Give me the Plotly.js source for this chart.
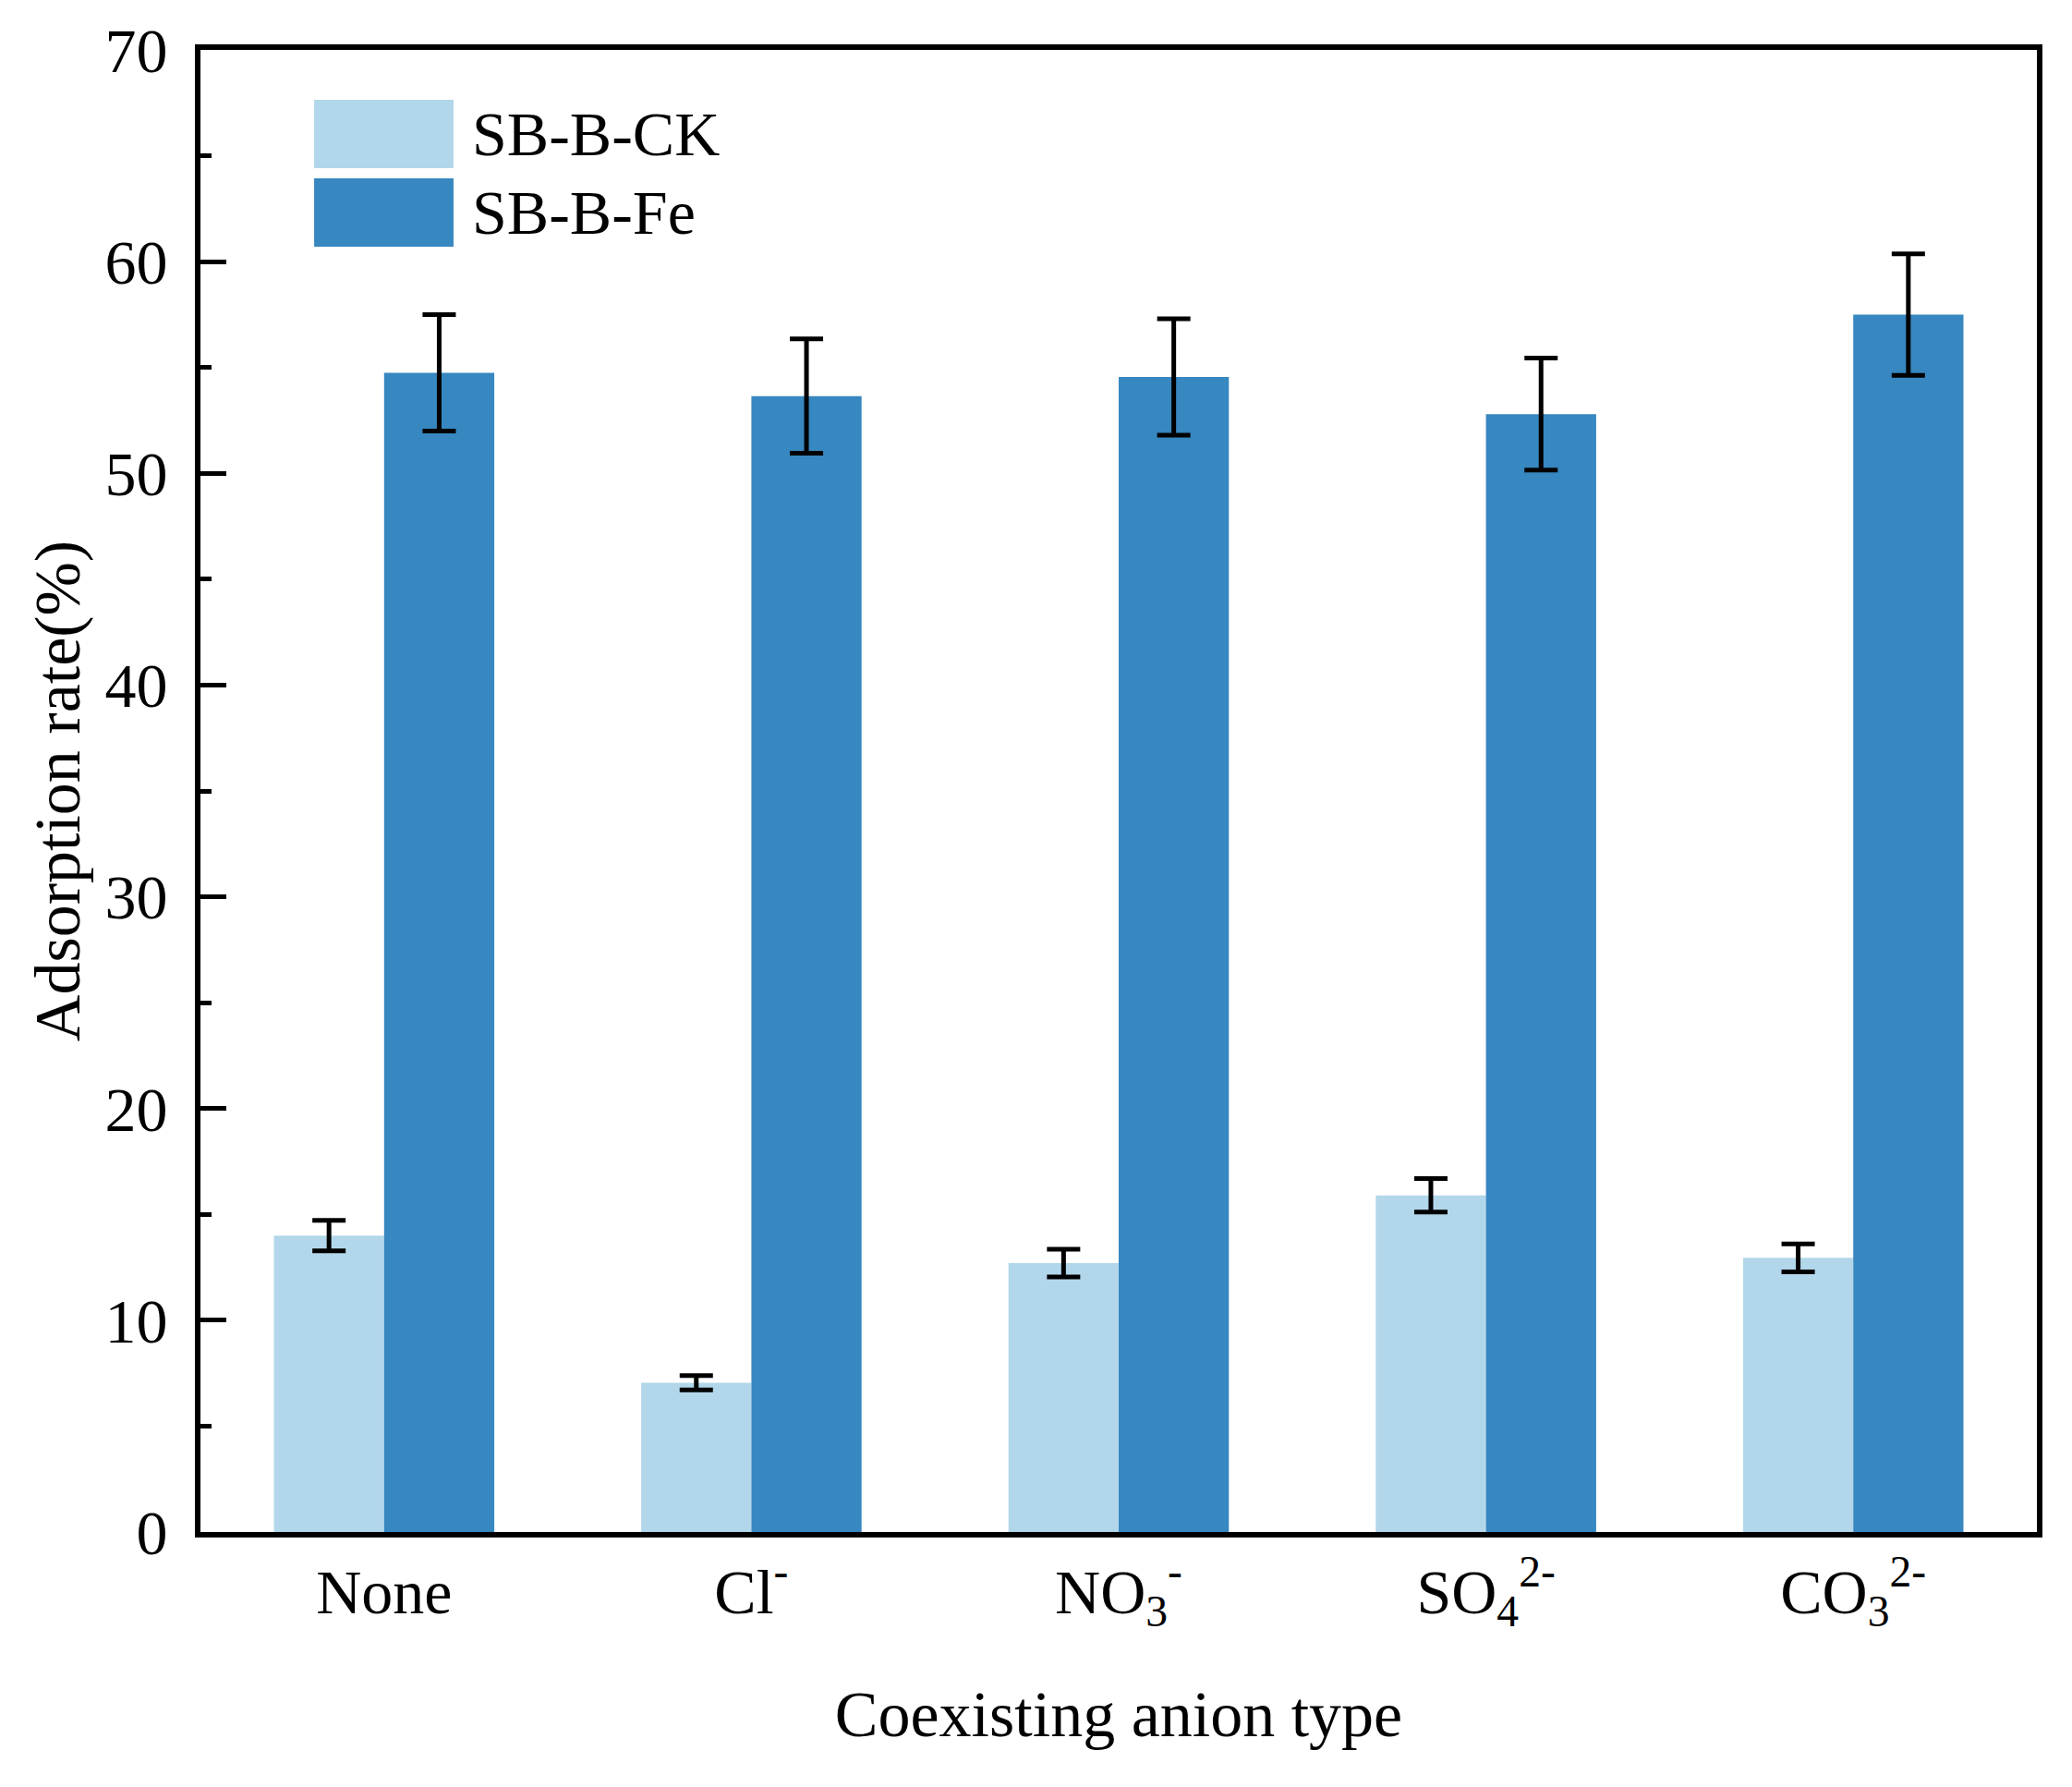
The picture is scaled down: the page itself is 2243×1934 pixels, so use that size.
<!DOCTYPE html>
<html>
<head>
<meta charset="utf-8">
<script src="https://cdn.plot.ly/plotly-3.0.1.min.js"></script>
<style>
  html, body { margin: 0; padding: 0; background: #ffffff; }
  #chart { width: 2243px; height: 1934px; }
</style>
</head>
<body>
<div id="chart"></div>
<script>
// ---- data ----
const categories = ["None", "Cl<sup>-</sup>", "NO<sub>3</sub><sup>-</sup>", "SO<sub>4</sub><sup>2-</sup>", "CO<sub>3</sub><sup>2-</sup>"];
const seriesNames = ["SB-B-CK", "SB-B-Fe"];
const ckValues = [14.0, 7.05, 12.7, 15.9, 12.95];
const ckErrors = [0.72, 0.34, 0.65, 0.79, 0.66];
const feValues = [54.75, 53.65, 54.55, 52.8, 57.5];
const feErrors = [2.75, 2.7, 2.75, 2.65, 2.87];
const yTickValues = [0, 10, 20, 30, 40, 50, 60, 70];

// ---- styling ----
const FONT = "Liberation Serif, Times New Roman, serif";
const lightBlue = "#b3d7ea";
const darkBlue = "#3787c0";

const errStyle = (arr) => ({
  type: "data", array: arr, visible: true,
  color: "#000000", thickness: 5, width: 18
});

const traces = [
  {
    type: "bar", name: seriesNames[0], x: categories, y: ckValues,
    marker: { color: lightBlue, line: { width: 0 } },
    error_y: errStyle(ckErrors), showlegend: false
  },
  {
    type: "bar", name: seriesNames[1], x: categories, y: feValues,
    marker: { color: darkBlue, line: { width: 0 } },
    error_y: errStyle(feErrors), showlegend: false
  }
];

// custom legend (large swatches like the reference)
const legendSwatches = [
  { color: lightBlue, y0: 0.9202, y1: 0.9663, ty: 0.9433, name: seriesNames[0] },
  { color: darkBlue, y0: 0.8672, y1: 0.9133, ty: 0.8903, name: seriesNames[1] }
];
const shapes = legendSwatches.map(s => ({
  type: "rect", xref: "paper", yref: "paper",
  x0: 0.0619, x1: 0.1378, y0: s.y0, y1: s.y1,
  fillcolor: s.color, line: { width: 0 }
}));
const annotations = legendSwatches.map(s => ({
  xref: "paper", yref: "paper", x: 0.1469, y: s.ty,
  xanchor: "left", yanchor: "middle", showarrow: false,
  text: s.name, font: { family: FONT, size: 68, color: "#000000" }
}));

const layout = {
  width: 2243, height: 1934,
  margin: { l: 217, r: 38, t: 54, b: 276, pad: 0 },
  paper_bgcolor: "#ffffff", plot_bgcolor: "#ffffff",
  font: { family: FONT, size: 68, color: "#000000" },
  barmode: "group", bargap: 0.4, bargroupgap: 0,
  showlegend: false,
  xaxis: {
    type: "category",
    range: [-0.5, 4.5],
    showline: true, linecolor: "#000000", linewidth: 6, mirror: true,
    ticks: "", showgrid: false, zeroline: false,
    tickfont: { family: FONT, size: 68, color: "#000000" },
    ticklabelstandoff: 0,
    title: { text: "Coexisting anion type", font: { family: FONT, size: 70, color: "#000000" }, standoff: 63 },
    fixedrange: true
  },
  yaxis: {
    range: [0, 70],
    tickmode: "array", tickvals: yTickValues, ticktext: yTickValues.map(String),
    showline: true, linecolor: "#000000", linewidth: 6, mirror: true,
    ticks: "inside", ticklen: 28, tickwidth: 5, tickcolor: "#000000",
    minor: { dtick: 5, tick0: 0, ticks: "inside", ticklen: 12, tickwidth: 5, tickcolor: "#000000", showgrid: false },
    showgrid: false, zeroline: false,
    tickfont: { family: FONT, size: 68, color: "#000000" },
    ticklabelstandoff: 16,
    title: { text: "Adsorption rate(%)", font: { family: FONT, size: 70, color: "#000000" }, standoff: 6 },
    fixedrange: true
  },
  shapes: shapes,
  annotations: annotations
};

Plotly.newPlot("chart", traces, layout, { staticPlot: true, displayModeBar: false });
</script>
</body>
</html>
